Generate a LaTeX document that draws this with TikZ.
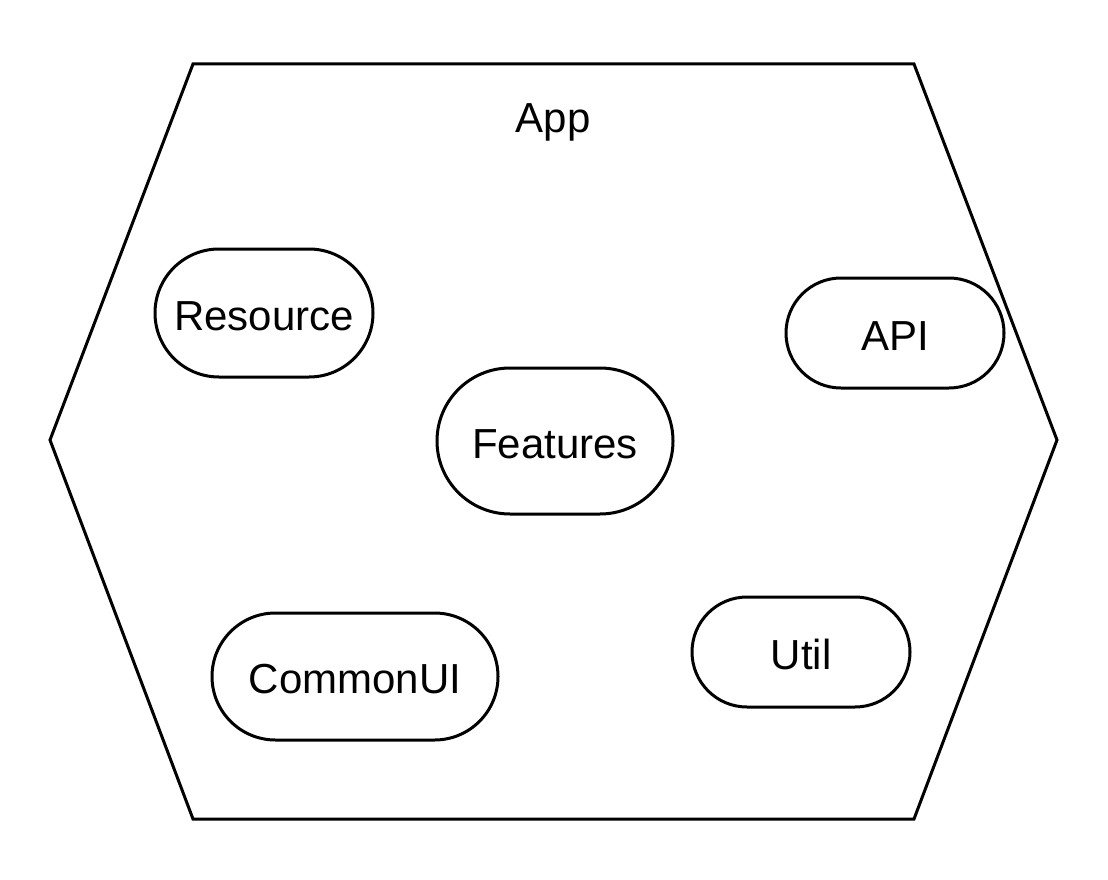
\documentclass[tikz,border=0pt]{standalone}
\usepackage{fontspec}
\setmainfont{Liberation Sans}
\begin{document}
\begin{tikzpicture}[x=1pt,y=-1pt,
  pill/.style={draw=black,line width=3pt,fill=white,rectangle,inner sep=0pt,
    font=\fontsize{42}{48}\selectfont,text height=34pt,text depth=0pt},
  lbl/.style={font=\fontsize{42}{48}\selectfont,text height=34pt,text depth=0pt,inner sep=0pt}]
\useasboundingbox (0,0) rectangle (1108,880);
\coordinate (h1) at (193,64);
\coordinate (h2) at (914,64);
\coordinate (h3) at (1057,440);
\coordinate (h4) at (914,819);
\coordinate (h5) at (193,819);
\coordinate (h6) at (50,440);
\draw[line width=3pt,line join=miter] (h1) -- (h2) -- (h3) -- (h4) -- (h5) -- (h6) -- cycle;
\node[lbl] (app) at (553,116) {App};
\node[pill,minimum width=218pt,minimum height=128pt,rounded corners=64pt] (res) at (264,313) {Resource};
\node[pill,minimum width=236pt,minimum height=146pt,rounded corners=73pt] (feat) at (555,441) {Features};
\node[pill,minimum width=218pt,minimum height=110pt,rounded corners=55pt] (api) at (895,333) {API};
\node[pill,minimum width=218pt,minimum height=110pt,rounded corners=55pt] (util) at (801,652) {Util};
\node[pill,minimum width=286pt,minimum height=127pt,rounded corners=63.5pt] (cui) at (355,676.5) {CommonUI};
\end{tikzpicture}
\end{document}
